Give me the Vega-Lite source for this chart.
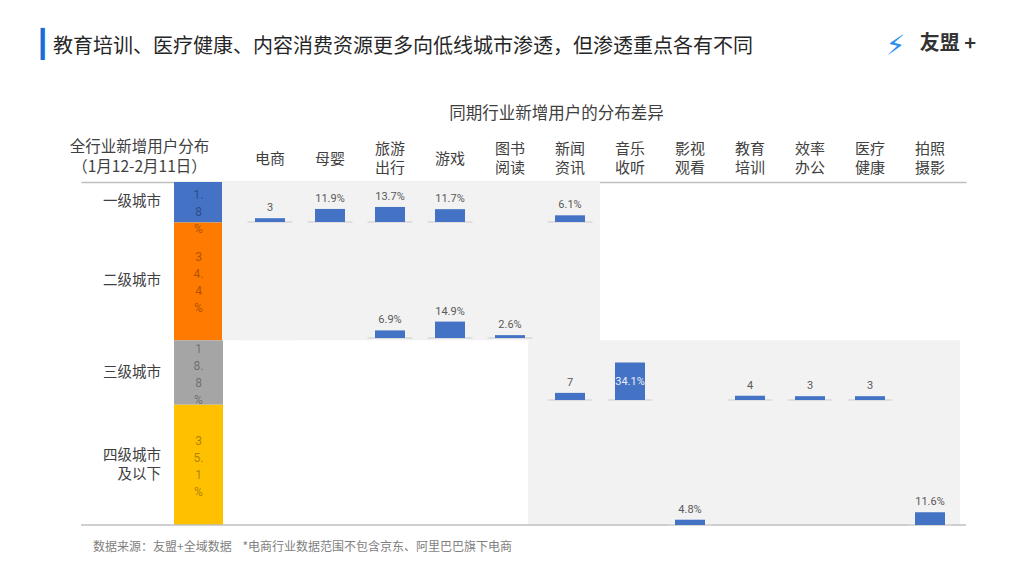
{
  "$schema": "https://vega.github.io/schema/vega-lite/v6.json",
  "autosize": {"type": "pad"},
  "padding": {"left": 33, "top": 30, "right": 20, "bottom": 5},
  "background": "white",
  "spacing": 0,
  "bounds": "flush",
  "config": {"font": "Noto Sans CJK SC", "view": {"stroke": null}},
  "title": {
    "text": "教育培训、医疗健康、内容消费资源更多向低线城市渗透，但渗透重点各有不同",
    "anchor": "start", "frame": "group", "dx": -28, "offset": -27,
    "fontSize": 20, "fontWeight": "normal", "color": "#262626"
  },
  "datasets": {
    "tiers": [
      {"tier": "一级城市", "share": 0.118, "rank": 1},
      {"tier": "二级城市", "share": 0.344, "rank": 2},
      {"tier": "三级城市", "share": 0.188, "rank": 3},
      {"tier": "四级城市及以下", "share": 0.351, "rank": 4}
    ],
    "bars": [
      {"industry": "电商", "tier": "一级城市", "value": 3.5, "label": "3"},
      {"industry": "母婴", "tier": "一级城市", "value": 11.9, "label": "11.9%"},
      {"industry": "旅游出行", "tier": "一级城市", "value": 13.7, "label": "13.7%"},
      {"industry": "游戏", "tier": "一级城市", "value": 11.7, "label": "11.7%"},
      {"industry": "新闻资讯", "tier": "一级城市", "value": 6.1, "label": "6.1%"},
      {"industry": "旅游出行", "tier": "二级城市", "value": 6.9, "label": "6.9%"},
      {"industry": "游戏", "tier": "二级城市", "value": 14.9, "label": "14.9%"},
      {"industry": "图书阅读", "tier": "二级城市", "value": 2.6, "label": "2.6%"},
      {"industry": "新闻资讯", "tier": "三级城市", "value": 6.5, "label": "7"},
      {"industry": "音乐收听", "tier": "三级城市", "value": 34.1, "label": "34.1%"},
      {"industry": "教育培训", "tier": "三级城市", "value": 4, "label": "4"},
      {"industry": "效率办公", "tier": "三级城市", "value": 3.5, "label": "3"},
      {"industry": "医疗健康", "tier": "三级城市", "value": 3.5, "label": "3"},
      {"industry": "影视观看", "tier": "四级城市及以下", "value": 4.8, "label": "4.8%"},
      {"industry": "拍照摄影", "tier": "四级城市及以下", "value": 11.6, "label": "11.6%"}
    ],
    "shading": [
      {"industry": "电商", "group": "高线"},
      {"industry": "母婴", "group": "高线"},
      {"industry": "旅游出行", "group": "高线"},
      {"industry": "游戏", "group": "高线"},
      {"industry": "图书阅读", "group": "高线"},
      {"industry": "新闻资讯", "group": "高线"},
      {"industry": "新闻资讯", "group": "低线"},
      {"industry": "音乐收听", "group": "低线"},
      {"industry": "影视观看", "group": "低线"},
      {"industry": "教育培训", "group": "低线"},
      {"industry": "效率办公", "group": "低线"},
      {"industry": "医疗健康", "group": "低线"},
      {"industry": "拍照摄影", "group": "低线"}
    ]
  },
  "hconcat": [
    {
      "width": 142,
      "height": 343,
      "data": {"name": "tiers"},
      "title": {
        "text": "数据来源：友盟+全域数据\u00a0\u00a0\u00a0\u00a0*电商行业数据范围不包含京东、阿里巴巴旗下电商",
        "orient": "bottom", "anchor": "start", "frame": "group", "dx": 12, "offset": 16,
        "fontSize": 12, "fontWeight": "normal", "color": "#7f7f7f"
      },
      "layer": [
        {
          "mark": {"type": "bar"},
          "encoding": {
            "x": {
              "datum": "全行业", "type": "nominal",
              "scale": {"domain": ["城市级别", "全行业"], "paddingInner": 0.21, "paddingOuter": 0.25, "align": 1},
              "axis": {
                "orient": "top", "labels": false, "ticks": false, "tickSize": 0, "grid": false,
                "domainColor": "#bfbfbf", "domainWidth": 1.5,
                "title": ["全行业新增用户分布", "（1月12-2月11日）"],
                "titleFontSize": 15.5, "titleFontWeight": "normal", "titleColor": "#404040",
                "titleX": 58, "titleY": -43, "titleAlign": "center", "titleBaseline": "top", "titleLineHeight": 20
              }
            },
            "y": {
              "field": "share", "type": "quantitative", "stack": "zero",
              "scale": {"domain": [0, 1.001], "reverse": true, "nice": false},
              "axis": {
                "title": "┃", "titleAngle": 0, "titleX": -39, "titleY": -138,
                "titleAlign": "center", "titleBaseline": "middle", "titleColor": "#1a6dd4",
                "titleFont": "DejaVu Sans", "titleFontSize": 27, "titleFontWeight": "bold",
                "labels": false, "ticks": false, "domain": false, "grid": false
              }
            },
            "color": {
              "field": "tier", "type": "nominal",
              "scale": {"domain": ["一级城市", "二级城市", "三级城市", "四级城市及以下"], "range": ["#4472C4", "#FF7A00", "#A5A5A5", "#FFC000"]},
              "legend": null
            },
            "order": {"field": "rank", "type": "quantitative"}
          }
        },
        {
          "mark": {
            "type": "text", "baseline": "middle", "align": "center", "fontSize": 12, "lineHeight": 17, "dy": -24,
            "color": "#000000", "opacity": 0.32, "font": "Roboto", "clip": true,
            "lineBreak": {"expr": "regexp('(?=[0-9%])')"}
          },
          "encoding": {
            "x": {"datum": "全行业", "type": "nominal"},
            "y": {"field": "share", "type": "quantitative", "stack": "zero", "bandPosition": 0.5},
            "detail": {"field": "tier", "type": "nominal"},
            "order": {"field": "rank", "type": "quantitative"},
            "text": {"field": "share", "type": "quantitative", "format": ".1%"}
          }
        },
        {
          "mark": {
            "type": "text", "baseline": "middle", "align": "right", "fontSize": 14.5, "lineHeight": 19,
            "color": "#404040", "fontWeight": "normal"
          },
          "transform": [{"filter": "indexof(datum.tier, '及') < 0"}],
          "encoding": {
            "x": {"datum": "城市级别", "type": "nominal", "bandPosition": 1},
            "y": {"field": "share", "type": "quantitative", "stack": "zero", "bandPosition": 0.5},
            "detail": {"field": "tier", "type": "nominal"},
            "order": {"field": "rank", "type": "quantitative"},
            "text": {"field": "tier", "type": "nominal"}
          }
        },
        {
          "mark": {
            "type": "text", "baseline": "middle", "align": "right", "fontSize": 14.5, "lineHeight": 19, "dy": -9,
            "color": "#404040", "fontWeight": "normal",
            "lineBreak": {"expr": "regexp('(?=及)')"}
          },
          "encoding": {
            "x": {"datum": "城市级别", "type": "nominal", "bandPosition": 1},
            "y": {"field": "share", "type": "quantitative", "stack": "zero", "bandPosition": 0.5},
            "detail": {"field": "tier", "type": "nominal"},
            "order": {"field": "rank", "type": "quantitative"},
            "text": {"condition": {"test": "indexof(datum.tier, '及') >= 0", "field": "tier", "type": "nominal"}, "value": ""}
          }
        },
        {
          "transform": [{"filter": "datum.rank === 4"}],
          "mark": {"type": "rule", "color": "#bfbfbf", "strokeWidth": 1.5},
          "encoding": {"y": {"datum": 1.001, "type": "quantitative"}}
        }
      ]
    },
    {
      "width": 743,
      "height": 343,
      "title": {
        "text": "友盟 +", "anchor": "end", "frame": "group", "offset": -22, "dx": 10,
        "fontSize": 20, "fontWeight": "bold", "color": "#333333"
      },
      "resolve": {"scale": {"y": "independent"}},
      "layer": [
        {
          "data": {"name": "shading"},
          "encoding": {
            "x": {
              "field": "industry", "type": "nominal",
              "scale": {
                "domain": ["电商", "母婴", "旅游出行", "游戏", "图书阅读", "新闻资讯", "音乐收听", "影视观看", "教育培训", "效率办公", "医疗健康", "拍照摄影"],
                "paddingInner": 0, "paddingOuter": 0.1917, "align": 0.739
              },
              "axis": {
                "orient": "top", "labelAngle": 0,
                "labelExpr": "length(datum.label) > 2 ? [substring(datum.label, 0, 2), substring(datum.label, 2)] : datum.label",
                "labelBaseline": "middle",
                "labelPadding": {"condition": {"test": "length(datum.label) > 2", "value": 34}, "value": 24},
                "labelLineHeight": 19,
                "labelFontSize": 15, "labelColor": "#404040", "labelFontWeight": "normal",
                "ticks": false, "tickSize": 0, "grid": false,
                "domainColor": "#bfbfbf", "domainWidth": 1.5,
                "title": "同期行业新增用户的分布差异",
                "titleFontSize": 16.5, "titleFontWeight": "normal", "titleColor": "#404040",
                "titleX": 333, "titleY": -69, "titleAlign": "center", "titleBaseline": "middle"
              }
            },
            "y": {"datum": 0, "type": "quantitative", "scale": {"domain": [0, 1.001], "reverse": true, "nice": false}, "axis": null}
          },
          "layer": [
            {
              "transform": [{"filter": "datum.group === '高线'"}],
              "mark": {"type": "bar", "color": "#f2f2f2"},
              "encoding": {"y": {"datum": 0, "type": "quantitative"}, "y2": {"datum": 0.462}}
            },
            {
              "transform": [{"filter": "datum.group === '高线' && datum.industry === '电商'"}],
              "mark": {"type": "bar", "color": "#f2f2f2", "width": {"band": 1.3}, "xOffset": -9},
              "encoding": {"y": {"datum": 0, "type": "quantitative"}, "y2": {"datum": 0.462}}
            },
            {
              "transform": [{"filter": "datum.group === '低线'"}],
              "mark": {"type": "bar", "color": "#f2f2f2"},
              "encoding": {"y": {"datum": 0.462, "type": "quantitative"}, "y2": {"datum": 1.001}}
            },
            {
              "transform": [{"filter": "datum.group === '低线' && datum.industry === '新闻资讯'"}],
              "mark": {"type": "bar", "color": "#f2f2f2", "width": {"band": 1.2}, "xOffset": -6},
              "encoding": {"y": {"datum": 0.462, "type": "quantitative"}, "y2": {"datum": 1.001}}
            }
          ]
        },
        {
          "data": {"name": "tiers"},
          "transform": [{"filter": "datum.rank === 4"}],
          "mark": {"type": "rule", "color": "#bfbfbf", "strokeWidth": 1.5},
          "encoding": {
            "y": {
              "datum": 0, "type": "quantitative", "scale": {"domain": [0, 1], "nice": false},
              "axis": {
                "orient": "left", "title": "⚡", "titleAngle": 0, "titleX": 672, "titleY": -136,
                "titleAlign": "center", "titleBaseline": "middle", "titleColor": "#2b8ef0",
                "titleFont": "DejaVu Sans", "titleFontSize": 28, "titleFontWeight": "bold",
                "labels": false, "ticks": false, "domain": false, "grid": false
              }
            }
          }
        },
        {
          "data": {"name": "bars"},
          "transform": [{"filter": "datum.tier === '一级城市'"}],
          "encoding": {
            "x": {"field": "industry", "type": "nominal"},
            "y": {"field": "value", "type": "quantitative", "scale": {"domain": [-275.5, 36.4], "nice": false, "zero": false}, "axis": null}
          },
          "layer": [
            {"mark": {"type": "tick", "orient": "horizontal", "color": "#d9d9d9", "thickness": 1.5, "size": 45, "opacity": 1}, "encoding": {"y": {"datum": 0, "type": "quantitative"}}},
            {"mark": {"type": "bar", "color": "#4472C4", "width": {"band": 0.5}}},
            {"transform": [{"filter": "datum.value < 30"}], "mark": {"type": "text", "baseline": "bottom", "dy": -5, "fontSize": 11, "color": "#595959", "font": "Roboto"}, "encoding": {"text": {"field": "label", "type": "nominal"}}}
          ]
        },
        {
          "data": {"name": "bars"},
          "transform": [{"filter": "datum.tier === '二级城市'"}],
          "encoding": {
            "x": {"field": "industry", "type": "nominal"},
            "y": {"field": "value", "type": "quantitative", "scale": {"domain": [-170, 141.8], "nice": false, "zero": false}, "axis": null}
          },
          "layer": [
            {"mark": {"type": "tick", "orient": "horizontal", "color": "#d9d9d9", "thickness": 1.5, "size": 45, "opacity": 1}, "encoding": {"y": {"datum": 0, "type": "quantitative"}}},
            {"mark": {"type": "bar", "color": "#4472C4", "width": {"band": 0.5}}},
            {"transform": [{"filter": "datum.value < 30"}], "mark": {"type": "text", "baseline": "bottom", "dy": -5, "fontSize": 11, "color": "#595959", "font": "Roboto"}, "encoding": {"text": {"field": "label", "type": "nominal"}}}
          ]
        },
        {
          "data": {"name": "bars"},
          "transform": [{"filter": "datum.tier === '三级城市'"}],
          "encoding": {
            "x": {"field": "industry", "type": "nominal"},
            "y": {"field": "value", "type": "quantitative", "scale": {"domain": [-113.6, 198.2], "nice": false, "zero": false}, "axis": null}
          },
          "layer": [
            {"mark": {"type": "tick", "orient": "horizontal", "color": "#d9d9d9", "thickness": 1.5, "size": 45, "opacity": 1}, "encoding": {"y": {"datum": 0, "type": "quantitative"}}},
            {"mark": {"type": "bar", "color": "#4472C4", "width": {"band": 0.5}}},
            {"transform": [{"filter": "datum.value < 30"}], "mark": {"type": "text", "baseline": "bottom", "dy": -5, "fontSize": 11, "color": "#595959", "font": "Roboto"}, "encoding": {"text": {"field": "label", "type": "nominal"}}},
            {"transform": [{"filter": "datum.value >= 30"}], "mark": {"type": "text", "baseline": "middle", "dy": 19, "fontSize": 11, "color": "#e8eef9", "font": "Roboto"}, "encoding": {"text": {"field": "label", "type": "nominal"}}}
          ]
        },
        {
          "data": {"name": "bars"},
          "transform": [{"filter": "datum.tier === '四级城市及以下'"}],
          "encoding": {
            "x": {"field": "industry", "type": "nominal"},
            "y": {"field": "value", "type": "quantitative", "scale": {"domain": [0, 311.8], "nice": false, "zero": false}, "axis": null}
          },
          "layer": [
            {"mark": {"type": "tick", "orient": "horizontal", "color": "#d9d9d9", "thickness": 1.5, "size": 45, "opacity": 1}, "encoding": {"y": {"datum": 0, "type": "quantitative"}}},
            {"mark": {"type": "bar", "color": "#4472C4", "width": {"band": 0.5}}},
            {"transform": [{"filter": "datum.value < 30"}], "mark": {"type": "text", "baseline": "bottom", "dy": -5, "fontSize": 11, "color": "#595959", "font": "Roboto"}, "encoding": {"text": {"field": "label", "type": "nominal"}}}
          ]
        }
      ]
    }
  ]
}
